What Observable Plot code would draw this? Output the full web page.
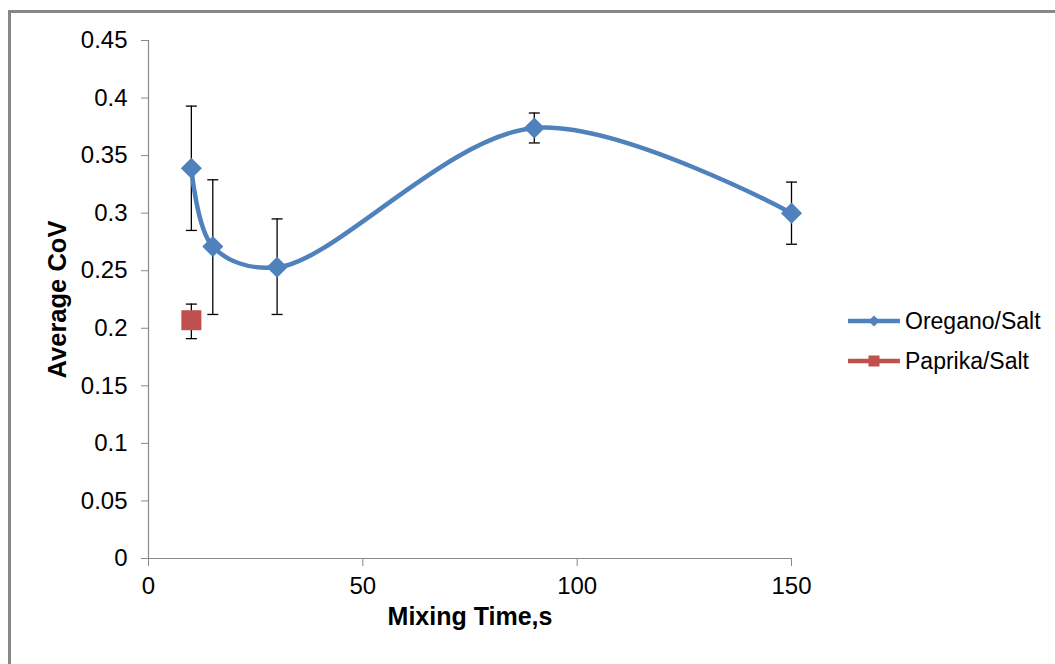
<!DOCTYPE html>
<html><head><meta charset="utf-8">
<script src="https://cdn.jsdelivr.net/npm/d3@7"></script>
<script src="https://cdn.jsdelivr.net/npm/@observablehq/plot@0.6"></script>
<style>
body{margin:0;background:#fff;font-family:"Liberation Sans",Arial,sans-serif;}
#wrap{position:relative;width:1055px;height:664px;overflow:hidden;background:#fff;}
#frame{position:absolute;left:8px;top:10px;width:2000px;height:2000px;border-left:3px solid #878787;border-top:3px solid #878787;pointer-events:none;}
#legend{position:absolute;left:848px;top:301px;font-size:23px;color:#000;}
.item{display:flex;align-items:center;height:40px;}
.item svg{margin-right:5px;}
</style></head><body><div id="wrap"><div id="chart"></div><div id="legend"></div><div id="frame"></div></div>
<script>
const oreganoTime = [10, 15, 30, 90, 150];
const oreganoCoV = [0.339, 0.271, 0.253, 0.374, 0.300];
const oreganoErrLow = [0.285, 0.212, 0.212, 0.361, 0.273];
const oreganoErrHigh = [0.393, 0.329, 0.295, 0.387, 0.327];
const paprikaTime = [10];
const paprikaCoV = [0.207];
const paprikaErrLow = [0.191];
const paprikaErrHigh = [0.221];
const xTicks = [0, 50, 100, 150];
const yTicks = [0, 0.05, 0.1, 0.15, 0.2, 0.25, 0.3, 0.35, 0.4, 0.45];
const seriesNames = ["Oregano/Salt", "Paprika/Salt"];
const seriesColors = ["#4F81BD", "#C0504D"];
const xTitle = "Mixing Time,s";
const yTitle = "Average CoV";

const oregano = oreganoTime.map((t, i) => ({t, v: oreganoCoV[i], lo: oreganoErrLow[i], hi: oreganoErrHigh[i]}));
const paprika = paprikaTime.map((t, i) => ({t, v: paprikaCoV[i], lo: paprikaErrLow[i], hi: paprikaErrHigh[i]}));
const all = oregano.concat(paprika);
const caps = all.flatMap(d => [{t: d.t, v: d.lo}, {t: d.t, v: d.hi}]);

const capSymbol = {draw(ctx) { ctx.moveTo(-5.5, 0); ctx.lineTo(5.5, 0); }};

const chart = Plot.plot({
  width: 1055, height: 664,
  marginLeft: 148, marginRight: 264, marginTop: 40, marginBottom: 106,
  style: {fontFamily: "'Liberation Sans', Arial, sans-serif", background: "transparent", color: "#000"},
  x: {domain: [0, 150]},
  y: {domain: [0, 0.45]},
  marks: [
    Plot.ruleX([0], {stroke: "#898989", strokeWidth: 1.2}),
    Plot.ruleY([0], {stroke: "#898989", strokeWidth: 1.2}),
    Plot.axisY({ticks: yTicks, tickSize: 7, tickPadding: 14, fontSize: 24, stroke: "#898989", fill: "#000", label: null, tickFormat: d => String(d)}),
    Plot.axisX({ticks: xTicks, tickSize: 8, tickPadding: 10, fontSize: 24, stroke: "#898989", fill: "#000", label: null}),
    Plot.text([xTitle], {frameAnchor: "bottom", dy: 66, fontSize: 25, fontWeight: "bold", fill: "#000"}),
    Plot.text([yTitle], {frameAnchor: "left", textAnchor: "middle", dx: -91, rotate: -90, fontSize: 25.5, fontWeight: "bold", fill: "#000"}),
    Plot.ruleX(all, {x: "t", y1: "lo", y2: "hi", stroke: "#000", strokeWidth: 1.3}),
    Plot.dot(caps, {x: "t", y: "v", symbol: capSymbol, stroke: "#000", strokeWidth: 1.3, fill: "none", r: 3}),
    Plot.line(oregano, {x: "t", y: "v", curve: "catmull-rom", stroke: seriesColors[0], strokeWidth: 4.5}),
    Plot.dot(oregano, {x: "t", y: "v", symbol: "diamond2", r: 9.5, fill: seriesColors[0], stroke: "none"}),
    Plot.dot(paprika, {x: "t", y: "v", symbol: "square", r: 11.3, fill: seriesColors[1], stroke: "none"})
  ]
});
document.getElementById("chart").appendChild(chart);

const legend = document.getElementById("legend");
seriesNames.forEach((name, i) => {
  const item = document.createElement("div");
  item.className = "item";
  const marker = i === 0
    ? `<path d="M26 -5.5 L31.5 0 L26 5.5 L20.5 0 Z" fill="${seriesColors[i]}" transform="translate(0,20)"/>`
    : `<rect x="20.5" y="14.5" width="11" height="11" fill="${seriesColors[i]}"/>`;
  item.innerHTML = `<svg width="52" height="40"><line x1="1" x2="51" y1="20" y2="20" stroke="${seriesColors[i]}" stroke-width="4.5" stroke-linecap="round"/>${marker}</svg><span>${name}</span>`;
  legend.appendChild(item);
});
</script></body></html>
